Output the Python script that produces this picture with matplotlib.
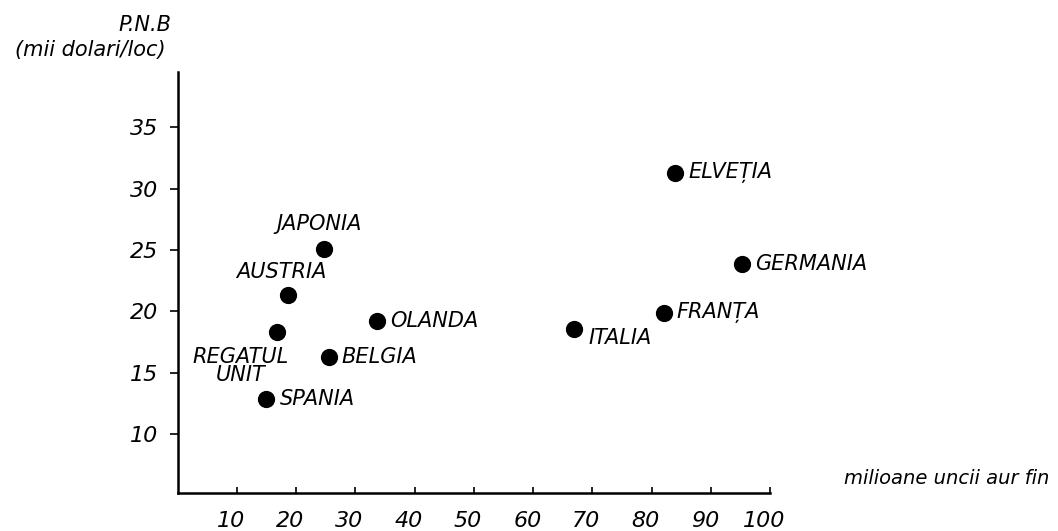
import matplotlib.pyplot as plt
from matplotlib.transforms import ScaledTranslation

# values
countries = ["ELVEȚIA", "GERMANIA", "FRANȚA", "ITALIA", "JAPONIA",
             "AUSTRIA", "REGATUL\nUNIT", "OLANDA", "BELGIA", "SPANIA"]
gold = [83.9, 95.3, 82.0, 66.8, 24.7, 18.6, 16.8, 33.6, 25.6, 14.9]   # milioane uncii
gnp = [31.3, 23.9, 19.85, 18.6, 25.1, 21.3, 18.3, 19.2, 16.3, 12.85]   # mii dolari/loc

x_ticks = [10, 20, 30, 40, 50, 60, 70, 80, 90, 100]
y_ticks = [10, 15, 20, 25, 30, 35]

# label placement (pixel offsets from the dot, alignment)
label_pos = {
    "ELVEȚIA": (14, 0, "left"),
    "GERMANIA": (13, 0, "left"),
    "FRANȚA": (13, 1, "left"),
    "ITALIA": (15, -9, "left"),
    "JAPONIA": (-5, 25, "center"),
    "AUSTRIA": (-7, 23, "center"),
    "REGATUL\nUNIT": (-37, -34, "center"),
    "OLANDA": (13, 0, "left"),
    "BELGIA": (12, 0, "left"),
    "SPANIA": (14, 0, "left"),
}

fig = plt.figure(figsize=(10.58, 5.31), dpi=100)
ax = fig.add_axes([0.168, 0.0716, 0.56, 0.7924])

ax.scatter(gold, gnp, s=130, color="black", zorder=3)

for name, xv, yv in zip(countries, gold, gnp):
    dx, dy, ha = label_pos[name]
    ax.annotate(name, (xv, yv), xytext=(dx, dy), textcoords="offset pixels",
                ha=ha, va="center", fontsize=15, fontstyle="italic",
                multialignment="center", linespacing=0.85)

ax.set_xlim(0, 100)
ax.set_ylim(5.2, 39.5)
ax.set_xticks(x_ticks)
ax.set_yticks(y_ticks)
ax.set_xticklabels([str(v) for v in x_ticks], fontsize=16, fontstyle="italic")
ax.set_yticklabels([str(v) for v in y_ticks], fontsize=16, fontstyle="italic")
ax.tick_params(axis="x", direction="in", length=4, width=1.2, pad=13)
ax.tick_params(axis="y", direction="out", length=6, width=1.2, pad=8)

# hand lettering sits a little left of each x tick
shift = ScaledTranslation(-6 / 100, 0, fig.dpi_scale_trans)
for lbl in ax.get_xticklabels():
    lbl.set_transform(lbl.get_transform() + shift)

for side in ["top", "right"]:
    ax.spines[side].set_visible(False)
for side in ["left", "bottom"]:
    ax.spines[side].set_linewidth(1.8)

fig.text(0.137, 0.952, "P.N.B", fontsize=15, fontstyle="italic", ha="center", va="center")
fig.text(0.085, 0.905, "(mii dolari/loc)", fontsize=15, fontstyle="italic", ha="center", va="center")
fig.text(0.895, 0.098, "milioane uncii aur fin", fontsize=14, fontstyle="italic", ha="center", va="center")

fig.savefig("out.png", dpi=100)
